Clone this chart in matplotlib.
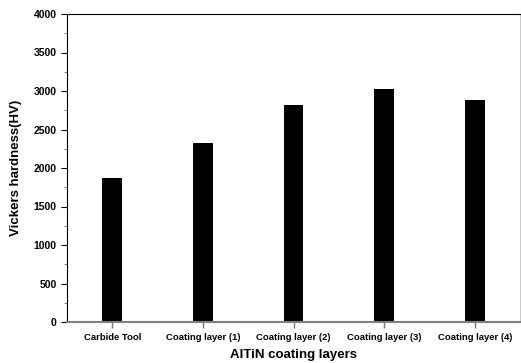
import matplotlib
matplotlib.use("Agg")
import matplotlib.pyplot as plt
from matplotlib.ticker import MultipleLocator

plt.rcParams["font.family"] = ["Liberation Sans", "DejaVu Sans"]
plt.rcParams["font.weight"] = "bold"

categories = ["Carbide Tool", "Coating layer (1)", "Coating layer (2)",
              "Coating layer (3)", "Coating layer (4)"]
hardness = [1870, 2325, 2815, 3025, 2880]
y_ticks = [0, 500, 1000, 1500, 2000, 2500, 3000, 3500, 4000]

fig = plt.figure(figsize=(5.21, 3.63), dpi=100)
ax = fig.add_axes([67 / 521, 1 - 322 / 363, 453 / 521, 308 / 363])

x = range(len(categories))
ax.bar(x, hardness, width=0.22, color="black")

ax.set_xlim(-0.5, 4.5)
ax.set_ylim(0, 4000)
ax.set_xticks(list(x))
ax.set_xticklabels(categories, fontsize=6.8, fontweight="bold")
ax.set_yticks(y_ticks)
ax.set_yticklabels([str(v) for v in y_ticks], fontsize=7.5, fontweight="bold")
ax.yaxis.set_minor_locator(MultipleLocator(250))

ax.tick_params(axis="y", which="major", direction="out", length=4, width=0.8)
ax.tick_params(axis="y", which="minor", direction="out", length=2, width=0.6,
               color="#666666")
ax.tick_params(axis="x", which="major", direction="out", length=4, width=1,
               color="#777777", pad=4)

ax.spines["left"].set_color("black")
ax.spines["top"].set_color("black")
ax.spines["bottom"].set_color("#808080")
ax.spines["bottom"].set_linewidth(1.5)
ax.spines["right"].set_color("#cccccc")

ax.set_ylabel("Vickers hardness(HV)", fontsize=9.5, fontweight="bold",
              labelpad=8)
ax.set_xlabel("AlTiN coating layers", fontsize=9.5, fontweight="bold",
              labelpad=5)

fig.savefig("out.png", dpi=100)
